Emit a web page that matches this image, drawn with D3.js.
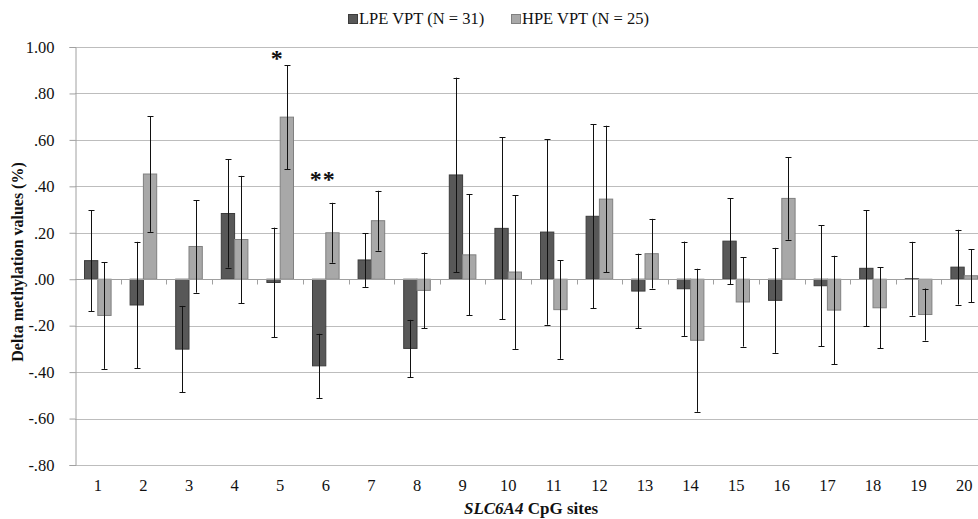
<!DOCTYPE html>
<html lang="en">
<head>
<meta charset="UTF-8">
<title>SLC6A4 CpG delta methylation</title>
<script src="https://d3js.org/d3.v7.min.js"></script>
<style>
    body { margin: 0; background: #fff; }
    text { font-family: "Liberation Serif", "Times New Roman", serif; fill: #111; }
    .grid line { stroke: #bdbdbd; stroke-width: 1; }
    .bar-lpe { fill: #585858; stroke: #3c3c3c; }
    .bar-hpe { fill: #a8a8a8; stroke: #808080; }
    .err { stroke: #111; stroke-width: 1; }
</style>
</head>
<body>
<svg id="chart" width="978" height="519"></svg>
<script>
    const sites = d3.range(1, 21).map(String);
    const seriesNames = ["LPE VPT (N = 31)", "HPE VPT (N = 25)"];

    // means and error bar half-lengths
    const lpeValues = [0.080, -0.111, -0.301, 0.283, -0.014, -0.373, 0.083, -0.298, 0.449, 0.219,
                       0.203, 0.271, -0.051, -0.041, 0.164, -0.091, -0.028, 0.047, 0.002, 0.052];
    const lpeErrors = [0.217, 0.272, 0.186, 0.233, 0.236, 0.138, 0.116, 0.123, 0.419, 0.392,
                       0.399, 0.397, 0.161, 0.203, 0.185, 0.226, 0.260, 0.250, 0.159, 0.161];
    const hpeValues = [-0.156, 0.453, 0.141, 0.171, 0.698, 0.200, 0.252, -0.048, 0.105, 0.031,
                       -0.131, 0.345, 0.110, -0.263, -0.098, 0.348, -0.133, -0.123, -0.152, 0.015];
    const hpeErrors = [0.230, 0.249, 0.199, 0.274, 0.224, 0.129, 0.129, 0.163, 0.261, 0.331,
                       0.212, 0.316, 0.150, 0.308, 0.192, 0.178, 0.234, 0.175, 0.112, 0.114];

    const yTicks = [-0.8, -0.6, -0.4, -0.2, 0, 0.2, 0.4, 0.6, 0.8, 1.0];
    const stars = [{site: "5", label: "*", at: 0.962}, {site: "6", label: "**", at: 0.44}];

    const svg = d3.select("#chart");
    const plotLeft = 75, plotRight = 987, plotTop = 47, plotBottom = 465;

    const x = d3.scaleBand().domain(sites).range([plotLeft, plotRight]);
    const barW = 13.3;
    const y = d3.scaleLinear().domain([-0.8, 1.0]).range([plotBottom, plotTop]);

    const fmt = v => d3.format(".2f")(v).replace("\u2212", "-").replace(/^(-?)0\./, "$1.");

    // gridlines
    svg.append("g").attr("class", "grid")
        .selectAll("line")
        .data(yTicks)
        .enter().append("line")
        .attr("x1", plotLeft).attr("x2", 978)
        .attr("y1", d => Math.round(y(d)) + 0.5)
        .attr("y2", d => Math.round(y(d)) + 0.5);

    // y axis
    const yAxis = svg.append("g")
        .attr("transform", `translate(${plotLeft + 0.5},0)`)
        .call(d3.axisLeft(y).tickValues(yTicks).tickFormat(fmt).tickSize(6).tickPadding(15));
    yAxis.select(".domain").attr("stroke", "#a0a0a0");
    yAxis.selectAll(".tick line").attr("stroke", "#a0a0a0");
    yAxis.selectAll(".tick text")
        .style("font-family", "'Liberation Serif', serif")
        .style("font-size", "16.5px").attr("fill", "#111");

    // bars
    const data = [];
    sites.forEach((s, i) => {
        data.push({site: s, v: lpeValues[i], e: lpeErrors[i], k: 0});
        data.push({site: s, v: hpeValues[i], e: hpeErrors[i], k: 1});
    });
    const bx = d => x(d.site) + x.bandwidth() / 2 - barW + d.k * barW;

    svg.append("g").selectAll("rect")
        .data(data)
        .enter().append("rect")
        .attr("class", d => d.k === 0 ? "bar-lpe" : "bar-hpe")
        .attr("x", bx)
        .attr("y", d => y(Math.max(0, d.v)))
        .attr("width", barW)
        .attr("height", d => Math.abs(y(d.v) - y(0)));

    // zero line with category ticks
    const zeroY = Math.round(y(0)) + 0.5;
    svg.append("line")
        .attr("x1", plotLeft).attr("x2", 978)
        .attr("y1", zeroY).attr("y2", zeroY)
        .attr("stroke", "#a0a0a0");
    svg.append("g").selectAll("line")
        .data(sites.slice(1))
        .enter().append("line")
        .attr("x1", d => Math.round(x(d)) + 0.5)
        .attr("x2", d => Math.round(x(d)) + 0.5)
        .attr("y1", zeroY).attr("y2", zeroY + 5)
        .attr("stroke", "#a0a0a0");

    // error bars
    const eg = svg.append("g").attr("class", "err");
    const cx = d => Math.round(bx(d) + barW / 2) + 0.5;
    eg.selectAll(".stem")
        .data(data)
        .enter().append("line")
        .attr("x1", cx).attr("x2", cx)
        .attr("y1", d => y(d.v + d.e)).attr("y2", d => y(d.v - d.e));
    eg.selectAll(".capTop")
        .data(data)
        .enter().append("line")
        .attr("x1", d => cx(d) - 3).attr("x2", d => cx(d) + 3)
        .attr("y1", d => Math.round(y(d.v + d.e)) + 0.5).attr("y2", d => Math.round(y(d.v + d.e)) + 0.5);
    eg.selectAll(".capBot")
        .data(data)
        .enter().append("line")
        .attr("x1", d => cx(d) - 3).attr("x2", d => cx(d) + 3)
        .attr("y1", d => Math.round(y(d.v - d.e)) + 0.5).attr("y2", d => Math.round(y(d.v - d.e)) + 0.5);

    // x tick labels
    svg.append("g").selectAll("text")
        .data(sites)
        .enter().append("text")
        .attr("x", d => x(d) + x.bandwidth() / 2)
        .attr("y", 491)
        .attr("text-anchor", "middle")
        .style("font-size", "16.5px")
        .text(d => d);

    // significance stars
    svg.append("g").selectAll("text")
        .data(stars)
        .enter().append("text")
        .attr("x", d => x(d.site) + x.bandwidth() / 2 - 3)
        .attr("y", d => y(d.at) + 10)
        .attr("text-anchor", "middle")
        .style("font-size", "24px").style("font-weight", "bold")
        .attr("letter-spacing", "1px")
        .text(d => d.label);

    // axis titles
    svg.append("text")
        .attr("transform", "translate(23,262) rotate(-90)")
        .attr("text-anchor", "middle")
        .style("font-size", "16px").style("font-weight", "bold")
        .text("Delta methylation values (%)");

    const xt = svg.append("text")
        .attr("x", 531).attr("y", 514)
        .attr("text-anchor", "middle")
        .style("font-size", "17px").style("font-weight", "bold");
    xt.append("tspan").style("font-style", "italic").text("SLC6A4");
    xt.append("tspan").text(" CpG sites");

    // legend
    const legendX = [348, 511];
    const lg = svg.append("g").selectAll("g")
        .data(seriesNames)
        .enter().append("g")
        .attr("transform", (d, i) => `translate(${legendX[i]},14)`);
    lg.append("rect")
        .attr("class", (d, i) => i === 0 ? "bar-lpe" : "bar-hpe")
        .attr("width", 9).attr("height", 9).attr("x", 0.5).attr("y", 0.5);
    lg.append("text")
        .attr("x", 11).attr("y", 10)
        .style("font-size", "16.5px")
        .text(d => d);
</script>
</body>
</html>
